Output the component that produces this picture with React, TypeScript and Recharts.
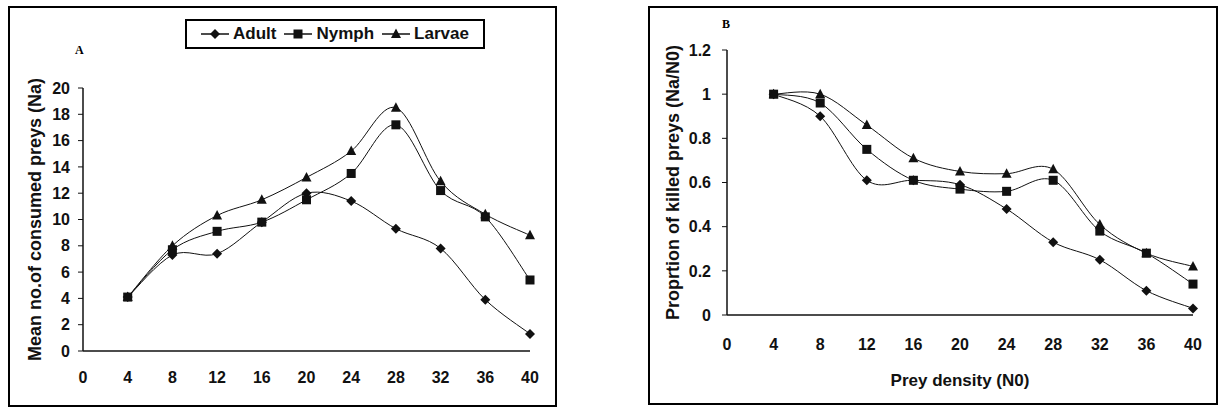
import { LineChart, Line, XAxis, YAxis, Legend } from "recharts"

// Prey density (N0) used in both panels
const DENSITY = [4, 8, 12, 16, 20, 24, 28, 32, 36, 40]
const X_TICKS = [0, 4, 8, 12, 16, 20, 24, 28, 32, 36, 40]
const NA_TICKS = [0, 2, 4, 6, 8, 10, 12, 14, 16, 18, 20]
const PROP_TICKS = [0, 0.2, 0.4, 0.6, 0.8, 1, 1.2]

// Panel A — mean no. of consumed preys (Na)
const ADULT_NA = [4.1, 7.3, 7.4, 9.8, 12.0, 11.4, 9.3, 7.8, 3.9, 1.3]
const NYMPH_NA = [4.1, 7.7, 9.1, 9.8, 11.5, 13.5, 17.2, 12.2, 10.2, 5.4]
const LARVAE_NA = [4.1, 8.0, 10.3, 11.5, 13.2, 15.2, 18.5, 12.9, 10.4, 8.8]

// Panel B — proportion of killed preys (Na/N0)
const ADULT_PROP = [1.0, 0.9, 0.61, 0.61, 0.59, 0.48, 0.33, 0.25, 0.11, 0.03]
const NYMPH_PROP = [1.0, 0.96, 0.75, 0.61, 0.57, 0.56, 0.61, 0.38, 0.28, 0.14]
const LARVAE_PROP = [1.0, 1.0, 0.86, 0.71, 0.65, 0.64, 0.66, 0.41, 0.28, 0.22]

const SERIES = ["Adult", "Nymph", "Larvae"]

const rowsA = DENSITY.map((d, i) => ({ density: d, Adult: ADULT_NA[i], Nymph: NYMPH_NA[i], Larvae: LARVAE_NA[i] }))
const rowsB = DENSITY.map((d, i) => ({ density: d, Adult: ADULT_PROP[i], Nymph: NYMPH_PROP[i], Larvae: LARVAE_PROP[i] }))

const FONT = "'Liberation Sans', Arial, sans-serif"
const INK = "#111"

// Excel-style smoothed line: Catmull-Rom through every point
const smoothCurve = (context: any) => {
  let pts: [number, number][] = []
  return {
    areaStart() {},
    areaEnd() {},
    lineStart() { pts = [] },
    point(x: number, y: number) { pts.push([+x, +y]) },
    lineEnd() {
      if (!pts.length) return
      context.moveTo(pts[0][0], pts[0][1])
      for (let i = 0; i < pts.length - 1; i++) {
        const p0 = pts[i - 1] ?? pts[i]
        const p1 = pts[i]
        const p2 = pts[i + 1]
        const p3 = pts[i + 2] ?? p2
        context.bezierCurveTo(
          p1[0] + (p2[0] - p0[0]) / 6, p1[1] + (p2[1] - p0[1]) / 6,
          p2[0] - (p3[0] - p1[0]) / 6, p2[1] - (p3[1] - p1[1]) / 6,
          p2[0], p2[1],
        )
      }
    },
  }
}

function marker(name: string, cx: number, cy: number, key?: any) {
  if (name === "Adult") {
    return <path key={key} d={`M${cx},${cy - 5}L${cx + 5},${cy}L${cx},${cy + 5}L${cx - 5},${cy}Z`} fill={INK} />
  }
  if (name === "Nymph") {
    return <rect key={key} x={cx - 4.5} y={cy - 4.5} width={9} height={9} fill={INK} />
  }
  return <path key={key} d={`M${cx},${cy - 5.5}L${cx + 5},${cy + 4}L${cx - 5},${cy + 4}Z`} fill={INK} />
}

const dotFor = (name: string) => (p: any) => marker(name, p.cx, p.cy, `${name}-${p.index}`)

const tickStyle = { fontSize: 16, fontWeight: 700, fill: INK, fontFamily: FONT }
const titleStyle = { fontSize: 18, fontWeight: 700, fill: INK, fontFamily: FONT, textAnchor: "middle" as const }

function LegendBox() {
  return (
    <div style={{
      border: "2px solid #000", width: 300, height: 30, boxSizing: "border-box",
      display: "flex", alignItems: "center", justifyContent: "center", gap: 8,
      fontFamily: FONT, fontWeight: 700, fontSize: 17, color: INK, background: "#fff",
    }}>
      {SERIES.map(s => (
        <span key={s} style={{ display: "flex", alignItems: "center", gap: 4 }}>
          <svg width={28} height={14}>
            <line x1={0} y1={7} x2={28} y2={7} stroke={INK} strokeWidth={1.5} />
            {marker(s, 14, 7)}
          </svg>
          {s}
        </span>
      ))}
    </div>
  )
}

function seriesLines() {
  return SERIES.map(s => (
    <Line
      key={s}
      dataKey={s}
      name={s}
      type={smoothCurve as any}
      stroke={INK}
      strokeWidth={1}
      dot={dotFor(s)}
      activeDot={false}
      isAnimationActive={false}
    />
  ))
}

export default function App() {
  return (
    <div style={{ position: "absolute", left: 0, top: 0, width: 1220, height: 410, background: "#fff", fontFamily: FONT }}>
      {/* frames */}
      <div style={{ position: "absolute", left: 8, top: 6, width: 549, height: 401, border: "2px solid #000", boxSizing: "border-box" }} />
      <div style={{ position: "absolute", left: 648, top: 6, width: 570, height: 399, border: "2px solid #000", boxSizing: "border-box" }} />

      <div style={{ position: "absolute", left: 75, top: 43, fontFamily: "'Liberation Serif', serif", fontWeight: 700, fontSize: 12 }}>A</div>
      <div style={{ position: "absolute", left: 722, top: 17, fontFamily: "'Liberation Serif', serif", fontWeight: 700, fontSize: 12 }}>B</div>

      {/* Panel A */}
      <div style={{ position: "absolute", left: 0, top: 0 }}>
        <LineChart width={560} height={410} data={rowsA} margin={{ top: 88, right: 30, bottom: 19, left: 33 }}>
          <XAxis
            dataKey="density"
            type="number"
            domain={[0, 40]}
            ticks={X_TICKS}
            tick={tickStyle}
            tickLine={false}
            tickSize={0}
            tickMargin={21}
            height={40}
            axisLine={{ stroke: INK, strokeWidth: 1.5 }}
          />
          <YAxis
            type="number"
            domain={[0, 20]}
            ticks={NA_TICKS}
            tick={tickStyle}
            tickSize={5}
            tickMargin={8}
            tickLine={{ stroke: INK }}
            width={50}
            axisLine={{ stroke: INK, strokeWidth: 1.5 }}
            label={{ value: "Mean no.of consumed preys (Na)", angle: -90, position: "left", offset: -2, style: titleStyle }}
          />
          <Legend
            layout="vertical"
            align="center"
            verticalAlign="middle"
            wrapperStyle={{ left: 185, top: 19, width: 300 }}
            content={() => <LegendBox />}
          />
          {seriesLines()}
        </LineChart>
      </div>

      {/* Panel B */}
      <div style={{ position: "absolute", left: 640, top: 0 }}>
        <LineChart width={580} height={410} data={rowsB} margin={{ top: 50, right: 27, bottom: 25, left: 37 }}>
          <XAxis
            dataKey="density"
            type="number"
            domain={[0, 40]}
            ticks={X_TICKS}
            tick={tickStyle}
            tickLine={false}
            tickSize={0}
            tickMargin={24}
            height={70}
            axisLine={{ stroke: INK, strokeWidth: 1.5 }}
            label={{ value: "Prey density (N0)", position: "insideBottom", offset: -1, style: { ...titleStyle, fontSize: 17 } }}
          />
          <YAxis
            type="number"
            domain={[0, 1.2]}
            ticks={PROP_TICKS}
            tick={tickStyle}
            tickSize={5}
            tickMargin={11}
            tickLine={{ stroke: INK }}
            width={50}
            axisLine={{ stroke: INK, strokeWidth: 1.5 }}
            label={{ value: "Proprtion of killed preys (Na/N0)", angle: -90, position: "left", offset: 4, style: titleStyle }}
          />
          {seriesLines()}
        </LineChart>
      </div>
    </div>
  )
}
